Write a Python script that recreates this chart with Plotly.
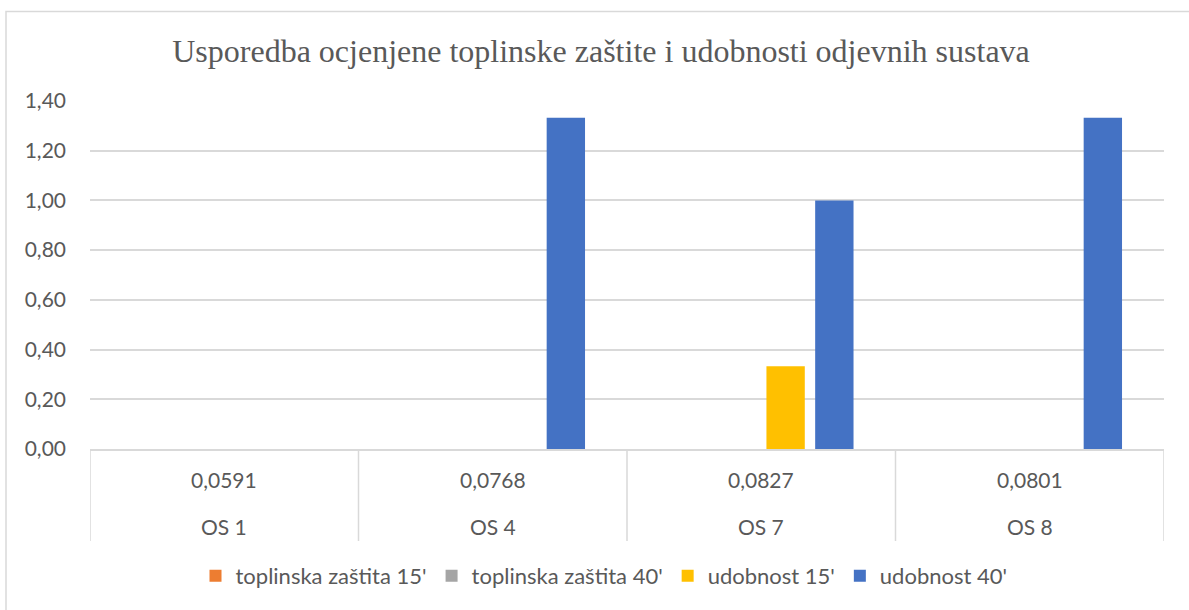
import plotly.graph_objects as go

# Category labels (two-level axis: sample code and its measured value)
systems = ["OS 1", "OS 4", "OS 7", "OS 8"]
sub_values = ["0,0591", "0,0768", "0,0827", "0,0801"]

# Series scores per clothing system
series_names = ["toplinska zaštita 15'", "toplinska zaštita 40'", "udobnost 15'", "udobnost 40'"]
toplinska_15 = [0.0, 0.0, 0.0, 0.0]
toplinska_40 = [0.0, 0.0, 0.0, 0.0]
udobnost_15 = [0.0, 0.0, 0.333, 0.0]
udobnost_40 = [0.0, 1.333, 1.0, 1.333]

y_ticks = [0.0, 0.2, 0.4, 0.6, 0.8, 1.0, 1.2, 1.4]
y_tick_text = ["0,00", "0,20", "0,40", "0,60", "0,80", "1,00", "1,20", "1,40"]

colors = ["#ED7D31", "#A5A5A5", "#FFC000", "#4472C4"]
text_color = "#595959"
grid_color = "#D9D9D9"
font_main = "Lato, Carlito, Calibri, sans-serif"

fig = go.Figure()
for name, vals, col in zip(series_names, [toplinska_15, toplinska_40, udobnost_15, udobnost_40], colors):
    fig.add_trace(go.Bar(x=systems, y=vals, name=name, marker=dict(color=col, line=dict(width=0))))

W, H = 1189, 610
L, R, T, B = 90, 25, 101, 161
pw, ph = W - L - R, H - T - B

def px_x(x):
    return (x - L) / pw

def px_y(y):
    return (H - B - y) / ph

# Outer chart frame
fig.add_shape(type="rect", xref="paper", yref="paper",
              x0=px_x(6), x1=px_x(1200), y0=px_y(620), y1=px_y(11.5),
              line=dict(color=grid_color, width=1.5), fillcolor="rgba(0,0,0,0)", layer="below")

# Two-level category table under the plot: dividers and labels
for i in range(len(systems) + 1):
    fig.add_shape(type="line", xref="x", yref="paper",
                  x0=i - 0.5, x1=i - 0.5, y0=px_y(449), y1=px_y(541),
                  line=dict(color=grid_color, width=1.5))
for i, (s, v) in enumerate(zip(systems, sub_values)):
    fig.add_annotation(x=s, xref="x", y=px_y(479), yref="paper", text=v, showarrow=False,
                       xanchor="center", yanchor="middle",
                       font=dict(family=font_main, size=21, color=text_color))
    fig.add_annotation(x=s, xref="x", y=px_y(526), yref="paper", text=s, showarrow=False,
                       xanchor="center", yanchor="middle",
                       font=dict(family=font_main, size=21, color=text_color))

fig.update_layout(
    width=W, height=H,
    margin=dict(l=L, r=R, t=T, b=B),
    paper_bgcolor="white", plot_bgcolor="white",
    separators=", ",
    barmode="group", bargap=0.274, bargroupgap=0.213,
    title=dict(text="Usporedba ocjenjene toplinske zaštite i udobnosti odjevnih sustava",
               font=dict(family="Liberation Serif, Times New Roman, serif", size=32, color=text_color),
               x=601 / W, xanchor="center", xref="container",
               y=1 - 51 / H, yanchor="middle", yref="container"),
    font=dict(family=font_main, size=20, color=text_color),
    xaxis=dict(type="category", showline=True, linecolor=grid_color, linewidth=1.5,
               showticklabels=False, showgrid=False, ticks="",
               range=[-0.5, len(systems) - 0.5]),
    yaxis=dict(range=[0, 1.4], tickvals=y_ticks, ticktext=y_tick_text,
               showgrid=True, gridcolor=grid_color, gridwidth=1.5,
               zeroline=False, showline=False, ticks="",
               ticklabelstandoff=23,
               tickfont=dict(size=21, color=text_color)),
    legend=dict(orientation="h", x=px_x(604), xanchor="center", y=px_y(576), yanchor="middle",
                font=dict(size=22, color=text_color), itemwidth=30,
                traceorder="normal"),
    showlegend=True,
)

fig.write_html("out.html")
